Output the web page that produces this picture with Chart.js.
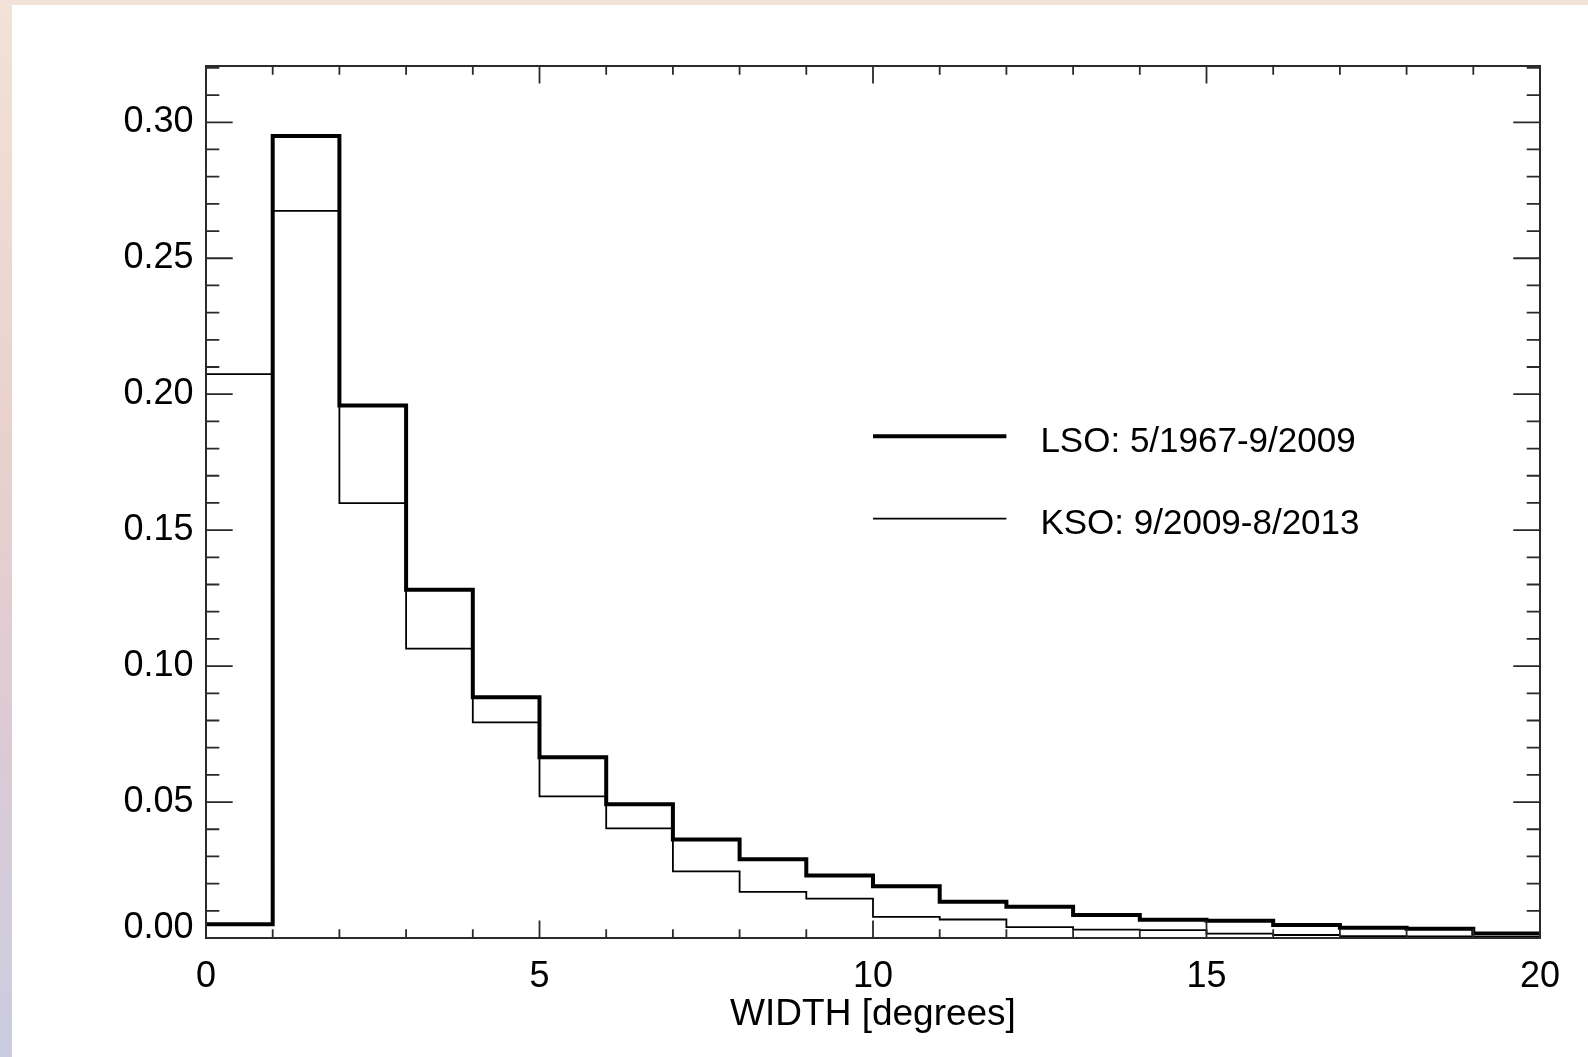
<!DOCTYPE html>
<html>
<head>
<meta charset="utf-8">
<script src="https://cdn.jsdelivr.net/npm/chart.js@4.4.1/dist/chart.umd.min.js"></script>
<style>
  html, body { margin: 0; padding: 0; }
  body {
    width: 1588px; height: 1057px; overflow: hidden; position: relative;
    background: linear-gradient(to bottom, #f2e2d7 0%, #e9d2cc 40%, #dccad5 70%, #cacde0 100%);
  }
  #panel { position: absolute; left: 12px; top: 5px; right: 0; bottom: 0; background: #fff; }
  #chart { position: absolute; left: 0; top: 0; }
</style>
</head>
<body>
<div id="panel"></div>
<canvas id="chart" width="1588" height="1057"></canvas>
<script>
// bin edges in degrees, one frequency per bin
const binEdges = [0, 1, 2, 3, 4, 5, 6, 7, 8, 9, 10, 11, 12, 13, 14, 15, 16, 17, 18, 19, 20];
const lsoFreq = [0.0051, 0.2950, 0.1958, 0.1281, 0.0885, 0.0665, 0.0492, 0.0362, 0.0290, 0.0230,
                 0.0190, 0.0133, 0.0115, 0.0085, 0.0067, 0.0063, 0.0048, 0.0038, 0.0034, 0.0017];
const ksoFreq = [0.2074, 0.2674, 0.1599, 0.1064, 0.0793, 0.0521, 0.0403, 0.0245, 0.0170, 0.0145,
                 0.0078, 0.0068, 0.0040, 0.0031, 0.0029, 0.0016, 0.0011, 0.0007, 0.0006, 0.0004];

const xMajorTicks = [0, 5, 10, 15, 20];
const yMajorTicks = [0, 0.05, 0.10, 0.15, 0.20, 0.25, 0.30];
const legendLabels = ['LSO: 5/1967-9/2009', 'KSO: 9/2009-8/2013'];
const xTitle = 'WIDTH [degrees]';

const FONT = '"Liberation Sans", Arial, Helvetica, sans-serif';
Chart.defaults.font.family = FONT;
Chart.defaults.color = '#000';

// histogram as stepped line: point at each bin start, last bin closed at the final edge
function stepPoints(freq) {
  const pts = freq.map((v, i) => ({ x: binEdges[i], y: v }));
  pts.push({ x: binEdges[freq.length], y: freq[freq.length - 1] });
  return pts;
}

// IDL-style box: frame, inward major/minor ticks on all four sides, legend, shifted 0.00 label
const idlFrame = {
  id: 'idlFrame',
  afterDatasetsDraw(chart) {
    const { ctx, chartArea: a, scales: { x, y } } = chart;
    ctx.save();
    ctx.strokeStyle = '#2a2a2a';
    ctx.lineWidth = 2;
    ctx.strokeRect(a.left, a.top, a.right - a.left, a.bottom - a.top);

    ctx.lineWidth = 1.8;
    ctx.beginPath();
    binEdges.forEach((v) => {
      const px = x.getPixelForValue(v);
      const len = xMajorTicks.includes(v) ? 17.5 : 8.7;
      ctx.moveTo(px, a.bottom); ctx.lineTo(px, a.bottom - len);
      ctx.moveTo(px, a.top); ctx.lineTo(px, a.top + len);
    });
    for (let k = 0; k <= 32; k++) {
      const py = y.getPixelForValue(k / 100);
      const len = k % 5 === 0 ? 26.7 : 13.3;
      ctx.moveTo(a.left, py); ctx.lineTo(a.left + len, py);
      ctx.moveTo(a.right, py); ctx.lineTo(a.right - len, py);
    }
    ctx.stroke();

    // bottom y label sits a little above its tick in the original
    ctx.fillStyle = '#000';
    ctx.font = '36px ' + FONT;
    ctx.textAlign = 'right';
    ctx.textBaseline = 'middle';
    ctx.fillText(yMajorTicks[0].toFixed(2), a.left - 12.5, y.getPixelForValue(0) - 10);

    // legend
    const x0 = x.getPixelForValue(10);
    const x1 = x.getPixelForValue(12);
    const rows = [{ w: 4, dy: 370.3 }, { w: 1.8, dy: 452.6 }];
    ctx.font = '35px ' + FONT;
    ctx.textAlign = 'left';
    ctx.textBaseline = 'alphabetic';
    rows.forEach((r, i) => {
      ctx.lineWidth = r.w;
      ctx.strokeStyle = '#000';
      ctx.beginPath();
      ctx.moveTo(x0, a.top + r.dy);
      ctx.lineTo(x1, a.top + r.dy);
      ctx.stroke();
      ctx.fillText(legendLabels[i], x1 + 34, a.top + r.dy + 15.5);
    });
    ctx.restore();
  }
};

new Chart(document.getElementById('chart'), {
  type: 'line',
  data: {
    datasets: [
      {
        label: legendLabels[0],
        data: stepPoints(lsoFreq),
        stepped: 'before',
        borderColor: '#000',
        borderWidth: 4,
        borderJoinStyle: 'miter',
        pointRadius: 0,
        fill: false,
      },
      {
        label: legendLabels[1],
        data: stepPoints(ksoFreq),
        stepped: 'before',
        borderColor: '#000',
        borderWidth: 1.8,
        borderJoinStyle: 'miter',
        pointRadius: 0,
        fill: false,
      },
    ],
  },
  options: {
    responsive: false,
    animation: false,
    events: [],
    layout: { padding: { left: 0, right: 48, top: 66, bottom: 0 } },
    plugins: { legend: { display: false }, tooltip: { enabled: false } },
    scales: {
      x: {
        type: 'linear',
        min: 0,
        max: 20,
        grid: { display: false, drawTicks: false },
        border: { display: false },
        afterBuildTicks: (s) => { s.ticks = xMajorTicks.map((v) => ({ value: v })); },
        afterFit: (s) => { s.height = 119; },
        ticks: {
          autoSkip: false,
          maxRotation: 0,
          padding: 17,
          font: { size: 36 },
          callback: (v) => String(v),
        },
        title: {
          display: true,
          text: xTitle,
          font: { size: 37 },
          padding: { top: 0, bottom: 20 },
        },
      },
      y: {
        type: 'linear',
        min: 0,
        max: 0.3207,
        grid: { display: false, drawTicks: false },
        border: { display: false },
        afterBuildTicks: (s) => { s.ticks = yMajorTicks.map((v) => ({ value: v })); },
        afterFit: (s) => { s.width = 206; },
        ticks: {
          autoSkip: false,
          padding: 12.5,
          font: { size: 36 },
          callback: (v) => (v === 0 ? '' : v.toFixed(2)),
        },
      },
    },
  },
  plugins: [idlFrame],
});
</script>
</body>
</html>
